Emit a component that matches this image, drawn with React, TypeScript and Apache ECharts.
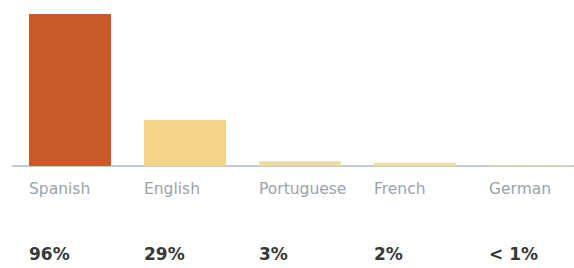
import React, { useEffect, useRef } from "react";
import * as echarts from "echarts";

const categories = ["Spanish", "English", "Portuguese", "French", "German"];
const values = [96, 29, 3, 2, 0.4];
const pctLabels = ["96%", "29%", "3%", "2%", "< 1%"];
const barColors = ["#C75A28", "#F3D489", "#EEDC9E", "#F1DDA2", "#F1DDA2"];

export default function App() {
  const ref = useRef<HTMLDivElement>(null);
  useEffect(() => {
    document.body.style.margin = "0";
    document.documentElement.style.overflow = "hidden";
    document.body.style.overflow = "hidden";
    if (!ref.current) return;
    const chart = echarts.init(ref.current, null, { renderer: "svg" });
    const leftRich = (size: number, color: string, weight: string) => ({
      fontFamily: "DejaVu Sans",
      fontSize: size,
      fontWeight: weight,
      color,
      width: 82,
      align: "left",
    });
    chart.setOption({
      animation: false,
      grid: {
        left: 12.5,
        width: 575,
        top: 14,
        height: 152,
        containLabel: false,
        outerBoundsMode: "none",
      },
      xAxis: [
        {
          type: "category",
          data: categories,
          position: "bottom",
          axisLine: { lineStyle: { color: "#AEBBC8", width: 1.5 } },
          axisTick: { show: false },
          axisLabel: {
            margin: 15,
            interval: 0,
            formatter: (v: string) => `{a|${v}}`,
            rich: { a: leftRich(15.5, "#9AA3AD", "normal") },
          },
        },
        {
          type: "category",
          data: pctLabels,
          position: "bottom",
          offset: 0,
          axisLine: { show: false },
          axisTick: { show: false },
          splitLine: { show: false },
          axisLabel: {
            margin: 79,
            interval: 0,
            formatter: (v: string) => `{b|${v}}`,
            rich: { b: leftRich(17, "#383838", "bold") },
          },
        },
      ],
      yAxis: {
        type: "value",
        min: 0,
        max: 96,
        show: false,
        splitLine: { show: false },
      },
      series: [
        {
          type: "bar",
          barWidth: 82,
          xAxisIndex: 0,
          data: values.map((v, i) => ({ value: v, itemStyle: { color: barColors[i] } })),
        },
      ],
    });
    return () => chart.dispose();
  }, []);
  return <div ref={ref} style={{ width: 574, height: 268 }} />;
}
